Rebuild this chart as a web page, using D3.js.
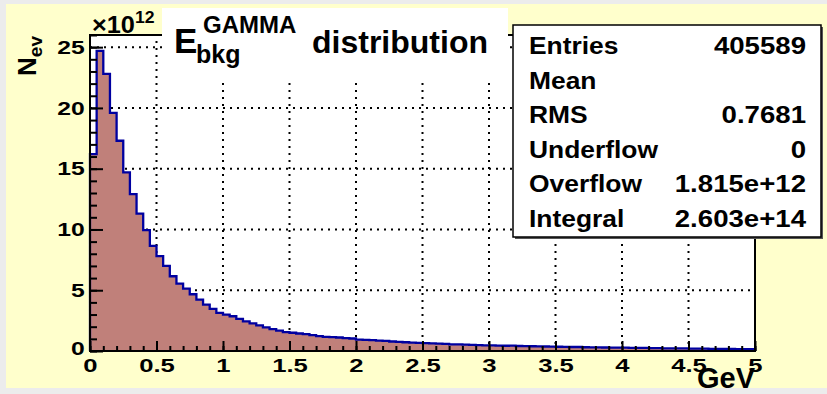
<!DOCTYPE html>
<html><head><meta charset="utf-8">
<script src="https://cdn.jsdelivr.net/npm/d3@7"></script>
<style>
body{margin:0;background:#ececec}
svg{display:block}
text{font-family:"Liberation Sans",Arial,Helvetica,sans-serif;font-weight:bold;fill:#000}
</style>
</head><body>
<svg id="c" width="827" height="394"></svg>
<script>
// ---- data (bin contents in units of 10^12, 100 bins of 0.05 GeV from 0 to 5 GeV) ----
const xRange = [0, 5];
const binWidth = 0.05;
const counts = [
  16.2, 24.7, 22.8, 19.6, 17.3, 14.7, 12.9, 11.3, 9.95, 8.65,
  7.8, 7.0, 6.15, 5.55, 5.14, 4.67, 4.23, 3.82, 3.47, 3.14,
  3.0, 2.86, 2.64, 2.44, 2.28, 2.11, 1.94, 1.8, 1.67, 1.56,
  1.5, 1.44, 1.39, 1.3, 1.22, 1.17, 1.14, 1.11, 1.06, 1.03,
  0.94, 0.92, 0.89, 0.86, 0.83, 0.78, 0.75, 0.72, 0.69, 0.67,
  0.64, 0.62, 0.6, 0.58, 0.55, 0.54, 0.52, 0.51, 0.49, 0.47,
  0.46, 0.45, 0.43, 0.44, 0.41, 0.40, 0.39, 0.38, 0.37, 0.36,
  0.35, 0.34, 0.33, 0.33, 0.31, 0.30, 0.30, 0.29, 0.28, 0.27,
  0.27, 0.26, 0.25, 0.25, 0.24, 0.23, 0.22, 0.22, 0.21, 0.21,
  0.20, 0.19, 0.19, 0.18, 0.18, 0.17, 0.17, 0.16, 0.16, 0.15
];
const yMax = 26;
const yTicks = [0, 5, 10, 15, 20, 25];
const yMinorTicks = d3.range(0, 27, 1);
const xTicks = [0, 0.5, 1, 1.5, 2, 2.5, 3, 3.5, 4, 4.5, 5];
const xTickLabels = ["0", "0.5", "1", "1.5", "2", "2.5", "3", "3.5", "4", "4.5", "5"];
const xMinorTicks = d3.range(0, 51).map(i => i / 10);
const statLabels = ["Entries", "Mean", "RMS", "Underflow", "Overflow", "Integral"];
const statValues = ["405589", "", "0.7681", "0", "1.815e+12", "2.603e+14"];
const titleMain = "E", titleSub = "bkg", titleSup = "GAMMA", titleRest = "distribution";
const yTitle = "N", yTitleSub = "ev";
const xTitle = "GeV";

// ---- layout ----
const svg = d3.select("#c");
const L = 90, R = 755, T = 35, B = 351;
const x = d3.scaleLinear().domain(xRange).range([L, R]);
const y = d3.scaleLinear().domain([0, yMax]).range([B, T]);

// canvas background
svg.append("rect").attr("x", 0).attr("y", 0).attr("width", 827).attr("height", 394).attr("fill", "#ececec");
svg.append("rect").attr("x", 6).attr("y", 4).attr("width", 821).attr("height", 384).attr("fill", "#ffffcc");
// plot area
svg.append("rect").attr("x", L).attr("y", T).attr("width", R - L).attr("height", B - T).attr("fill", "#fff");

// grid
const grid = svg.append("g").attr("stroke", "#000").attr("stroke-width", 2).attr("stroke-dasharray", "2,5");
grid.selectAll(".gx").data(xTicks.filter(v => v > 0 && v < 5)).join("line")
  .attr("x1", d => x(d)).attr("x2", d => x(d)).attr("y1", B).attr("y2", T);
grid.selectAll(".gy").data(yTicks.filter(v => v > 0)).join("line")
  .attr("x1", L).attr("x2", R).attr("y1", d => y(d)).attr("y2", d => y(d));

// histogram
const pts = [[xRange[0], 0]].concat(counts.map((c, i) => [i * binWidth, c]));
pts.push([xRange[1], counts[counts.length - 1]]);
pts.push([xRange[1], 0]);
const area = d3.area().curve(d3.curveStepAfter).x(d => x(d[0])).y0(y(0)).y1(d => y(d[1]));
const line = d3.line().curve(d3.curveStepAfter).x(d => x(d[0])).y(d => y(d[1]));
svg.append("path").attr("d", area(pts)).attr("fill", "#c0807a");
svg.append("path").attr("d", line(pts)).attr("fill", "none").attr("stroke", "#0000a0").attr("stroke-width", 2.3);

// axes
const xMinor = svg.append("g").attr("transform", `translate(0,${B})`)
  .call(d3.axisBottom(x).tickValues(xMinorTicks).tickSize(-5).tickFormat(""));
const xMajor = svg.append("g").attr("transform", `translate(0,${B})`)
  .call(d3.axisBottom(x).tickValues(xTicks).tickSize(-10).tickPadding(7).tickFormat((d, i) => xTickLabels[i]));
const yMinor = svg.append("g").attr("transform", `translate(${L},0)`)
  .call(d3.axisLeft(y).tickValues(yMinorTicks).tickSize(-7).tickFormat(""));
const yMajor = svg.append("g").attr("transform", `translate(${L},0)`)
  .call(d3.axisLeft(y).tickValues(yTicks).tickSize(-13).tickPadding(4).tickFormat(d3.format("d")));
[xMinor, xMajor, yMinor, yMajor].forEach(g => {
  g.select(".domain").remove();
  g.selectAll("line").attr("stroke", "#000").attr("stroke-width", 2);
});
xMajor.selectAll("text").attr("font-size", 19).attr("font-family", null).attr("transform", "scale(1.35,1)").attr("dy", "0.72em");
yMajor.selectAll("text").attr("font-size", 19).attr("font-family", null).attr("transform", "scale(1.3,1)");
yMajor.selectAll(".tick").filter(d => d === 0).select("text").attr("dy", "0.2em");
// frame
svg.append("rect").attr("x", L).attr("y", T).attr("width", R - L).attr("height", B - T)
  .attr("fill", "none").attr("stroke", "#000").attr("stroke-width", 2);

// exponent
const ex = svg.append("text").attr("transform", "translate(92,33) scale(1.1,1)").attr("font-size", 23);
ex.append("tspan").text("\u00d710");
ex.append("tspan").attr("font-size", 16).attr("dy", -10).text("12");

// y title
const yt = svg.append("text").attr("transform", "translate(36,36) rotate(-90)").attr("text-anchor", "end").attr("font-size", 26);
yt.append("tspan").text(yTitle);
yt.append("tspan").attr("font-size", 19).attr("dy", 6).text(yTitleSub);

// x title
svg.append("text").attr("x", R).attr("y", 388).attr("text-anchor", "end").attr("font-size", 29).text(xTitle);

// title box
svg.append("rect").attr("x", 162).attr("y", 8).attr("width", 346).attr("height", 72).attr("fill", "#fff");
svg.append("text").attr("x", 174).attr("y", 53).attr("font-size", 35).text(titleMain);
svg.append("text").attr("x", 196).attr("y", 63).attr("font-size", 25).text(titleSub);
svg.append("text").attr("x", 203).attr("y", 33).attr("font-size", 24).text(titleSup);
svg.append("text").attr("x", 312).attr("y", 53).attr("font-size", 32).text(titleRest);

// stats box
svg.append("rect").attr("x", 515).attr("y", 27).attr("width", 308).attr("height", 212).attr("fill", "#555");
svg.append("rect").attr("x", 513).attr("y", 25).attr("width", 308).attr("height", 212)
  .attr("fill", "#fff").attr("stroke", "#000").attr("stroke-width", 1.5);
statLabels.forEach((s, i) => {
  const by = 54 + i * 34.6;
  svg.append("text").attr("transform", `translate(529,${by}) scale(1.1,1)`).attr("font-size", 24).text(s);
  svg.append("text").attr("transform", `translate(806,${by}) scale(1.15,1)`).attr("text-anchor", "end").attr("font-size", 24).text(statValues[i]);
});
</script>
</body></html>
